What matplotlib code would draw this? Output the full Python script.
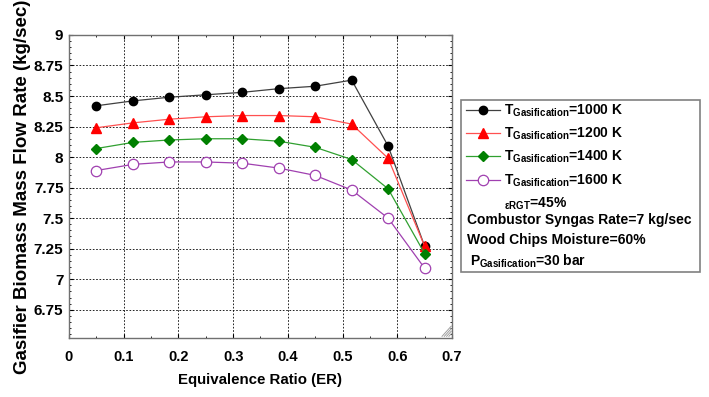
import matplotlib
matplotlib.use("Agg")
import matplotlib.pyplot as plt
from matplotlib.lines import Line2D
from matplotlib.patches import Rectangle
from matplotlib.ticker import MultipleLocator

FONT = 'Liberation Sans'
plt.rcParams.update({
    'font.family': FONT,
    'font.weight': 'bold',
    'axes.labelweight': 'bold',
    'font.size': 10,
    'mathtext.fontset': 'custom',
    'mathtext.rm': FONT + ':bold',
    'mathtext.it': FONT + ':bold',
    'mathtext.bf': FONT + ':bold',
    'axes.linewidth': 1.0,
})

# equivalence ratio
er = [0.05, 0.1167, 0.1833, 0.25, 0.3167, 0.3833, 0.45, 0.5167, 0.5833, 0.65]

# biomass mass flow rate (kg/sec)
flow_1000 = [8.42, 8.46, 8.49, 8.51, 8.53, 8.56, 8.58, 8.63, 8.09, 7.27]
flow_1200 = [8.24, 8.28, 8.31, 8.33, 8.34, 8.34, 8.33, 8.27, 7.99, 7.27]
flow_1400 = [8.07, 8.12, 8.14, 8.15, 8.15, 8.13, 8.08, 7.98, 7.74, 7.21]
flow_1600 = [7.89, 7.94, 7.96, 7.96, 7.95, 7.91, 7.85, 7.73, 7.50, 7.09]

x_ticks = [0, 0.1, 0.2, 0.3, 0.4, 0.5, 0.6, 0.7]
x_ticklabels = ['0', '0.1', '0.2', '0.3', '0.4', '0.5', '0.6', '0.7']
y_ticks = [6.75, 7, 7.25, 7.5, 7.75, 8, 8.25, 8.5, 8.75, 9]
y_ticklabels = ['6.75', '7', '7.25', '7.5', '7.75', '8', '8.25', '8.5', '8.75', '9']

labels = [r'T$_{Gasification}$=1000 K', r'T$_{Gasification}$=1200 K',
          r'T$_{Gasification}$=1400 K', r'T$_{Gasification}$=1600 K']
notes = ['Combustor Syngas Rate=7 kg/sec', 'Wood Chips Moisture=60%']

fig = plt.figure(figsize=(7.09, 3.97), dpi=100)
ax = fig.add_axes([0.0973, 0.149, 0.5402, 0.763])

h1, = ax.plot(er, flow_1000, color='#404040', lw=0.9, marker='o', ms=6,
              mfc='black', mec='black')
h2, = ax.plot(er, flow_1200, color='#ff5050', lw=0.9, marker='^', ms=7,
              mfc='red', mec='red')
h3, = ax.plot(er, flow_1400, color='#30a030', lw=0.9, marker='D', ms=5,
              mfc='green', mec='green')
h4, = ax.plot(er, flow_1600, color='#a040b0', lw=0.9, marker='o', ms=7.5,
              mfc='white', mec='#a040b0', mew=0.9)

ax.set_xlim(0, 0.7)
ax.set_ylim(6.52, 9)
ax.set_xticks(x_ticks)
ax.set_xticklabels(x_ticklabels, fontweight='bold', fontsize=10.5)
ax.set_yticks(y_ticks)
ax.set_yticklabels(y_ticklabels, fontweight='bold', fontsize=11)
ax.xaxis.set_minor_locator(MultipleLocator(0.05))
ax.yaxis.set_minor_locator(MultipleLocator(0.05))
ax.tick_params(which='both', direction='in', top=True, right=True)
ax.tick_params(which='major', length=3, width=0.8)
ax.tick_params(which='minor', length=1.5, width=0.6)
ax.tick_params(axis='x', pad=9)
ax.tick_params(axis='y', pad=4)
ax.grid(True, which='major', color='black', linestyle=(0, (2, 2)), linewidth=0.6)
for s in ax.spines.values():
    s.set_color('#707070')

ax.set_xlabel('Equivalence Ratio (ER)', fontsize=10.8, labelpad=6)
ax.set_ylabel('Gasifier Biomass Mass Flow Rate (kg/sec)', fontsize=13.5, labelpad=2)

# resize grip in the corner
for k in range(4):
    d = 0.008 + 0.006 * k
    ax.plot([1 - d, 1 - 0.002], [0.005, 0.005 + (d - 0.002) * 1.4],
            transform=ax.transAxes, color='#a0a0a0', lw=0.7, clip_on=False)

# legend box
fig.patches.append(Rectangle((461 / 709, 1 - 272 / 397), 239 / 709, 172 / 397,
                             transform=fig.transFigure, fill=False,
                             edgecolor='#808080', lw=1.2))
eps = Line2D([], [], linestyle='none')
leg = fig.legend([h1, h2, h3, h4, eps],
                 labels + [r'$_{\epsilon RGT}$=45%'],
                 loc='upper left', bbox_to_anchor=(465 / 709, 1 - 101 / 397),
                 frameon=False, fontsize=10, handlelength=2.4, handletextpad=0.3,
                 labelspacing=0.5, borderaxespad=0, borderpad=0.1)
for i, t in enumerate(notes):
    fig.text(467 / 709, 1 - (220 + 20 * i) / 397, t, fontsize=10, va='center')
fig.text(470 / 709, 1 - 261 / 397, r'P$_{Gasification}$=30 bar', fontsize=10, va='center')

fig.savefig('out.png', dpi=100)
